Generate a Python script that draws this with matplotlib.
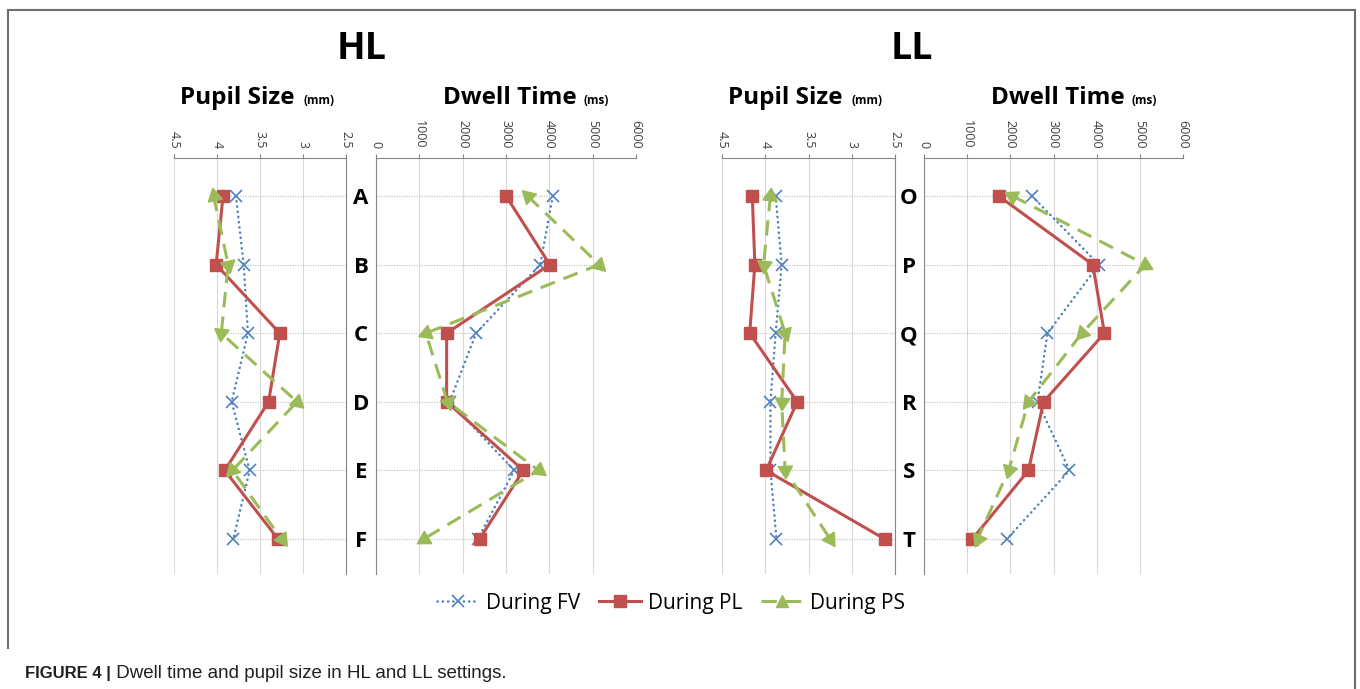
import numpy as np
import matplotlib
matplotlib.use('Agg')
import matplotlib.pyplot as plt
from matplotlib.lines import Line2D

plt.rcParams['font.family'] = ['Open Sans', 'DejaVu Sans']

W, H = 1360, 689

# ---------------------------------------------------------------------------
# Data
# ---------------------------------------------------------------------------
hl_cats = ['A', 'B', 'C', 'D', 'E', 'F']
ll_cats = ['O', 'P', 'Q', 'R', 'S', 'T']

hl_pupil_fv = [3.78, 3.69, 3.64, 3.83, 3.62, 3.81]
hl_pupil_pl = [3.93, 4.01, 3.27, 3.40, 3.91, 3.29]
hl_pupil_ps = [4.04, 3.87, 3.95, 3.07, 3.82, 3.25]

hl_dwell_fv = [4080, 3790, 2310, 1700, 3190, 2350]
hl_dwell_pl = [3000, 4010, 1630, 1630, 3400, 2390]
hl_dwell_ps = [3500, 5150, 1150, 1650, 3750, 1100]

ll_pupil_fv = [3.88, 3.81, 3.88, 3.94, 3.94, 3.87]
ll_pupil_pl = [4.15, 4.12, 4.18, 3.63, 3.99, 2.62]
ll_pupil_ps = [3.94, 4.02, 3.77, 3.81, 3.77, 3.25]

ll_dwell_fv = [2500, 4050, 2860, 2630, 3370, 1920]
ll_dwell_pl = [1730, 3910, 4180, 2770, 2420, 1120]
ll_dwell_ps = [2050, 5130, 3660, 2420, 1960, 1240]

pupil_ticks = [4.5, 4, 3.5, 3, 2.5]
pupil_ticklabels = ['4.5', '4', '3.5', '3', '2.5']
dwell_ticks = [0, 1000, 2000, 3000, 4000, 5000, 6000]
dwell_ticklabels = ['0', '1000', '2000', '3000', '4000', '5000', '6000']

series_names = ['During FV', 'During PL', 'During PS']

# ---------------------------------------------------------------------------
# Styles
# ---------------------------------------------------------------------------
C_FV = '#4F81BD'
C_PL = '#C0504D'
C_PS = '#9BBB59'
C_AXIS = '#868686'
C_GRID = '#D9D9D9'

FV_STYLE = dict(color=C_FV, lw=1.8, ls=(0, (0.1, 2.0)), dash_capstyle='round')
PL_STYLE = dict(color=C_PL, lw=2.2, ls='-')
PS_STYLE = dict(color=C_PS, lw=2.2, ls=(0, (5, 3)))


def px(x, y):
    return x / W, 1 - y / H


def rect(x0, y0, x1, y1):
    return [x0 / W, 1 - y1 / H, (x1 - x0) / W, (y1 - y0) / H]


def arrow_angles(ax, xs, ys):
    # triangles point along the direction of travel of the line
    pts = ax.transData.transform(np.column_stack([xs, ys]))
    out = []
    for i in range(len(pts)):
        d = pts[0] - pts[1] if i == 0 else pts[i] - pts[i - 1]
        out.append(np.degrees(np.arctan2(d[1], d[0])) - 90)
    return out


def draw_panel(ax, fv, pl, ps, cats, kind):
    y = np.arange(len(cats))
    if kind == 'pupil':
        ax.set_xlim(4.5, 2.5)
        ax.set_xticks(pupil_ticks, pupil_ticklabels)
        base = 2.5
        ax.spines['left'].set_visible(False)
        ax.spines['right'].set_color(C_AXIS)
    else:
        ax.set_xlim(0, 6000)
        ax.set_xticks(dwell_ticks, dwell_ticklabels)
        base = 0
        ax.spines['right'].set_visible(False)
        ax.spines['left'].set_color(C_AXIS)
    ax.set_ylim(5.51, -0.554)
    ax.spines['bottom'].set_visible(False)
    ax.spines['top'].set_color(C_AXIS)

    ax.grid(axis='x', color=C_GRID, lw=0.8)
    ax.set_axisbelow(True)
    ax.xaxis.tick_top()
    ax.tick_params(axis='x', top=True, labeltop=True, bottom=False, labelbottom=False,
                   length=3, color=C_AXIS, labelsize=9, labelcolor='#404040',
                   pad=4, labelrotation=-90)

    far = np.max([fv, pl, ps], axis=0)
    ax.hlines(y, base, far, color='#C8C8C8', lw=0.9, ls=(0, (1, 1)), zorder=1)

    ax.plot(fv, y, **FV_STYLE, marker='x', ms=9, mew=1.2, mec=C_FV, zorder=3)
    ax.plot(pl, y, **PL_STYLE, marker='s', ms=8, mfc=C_PL, mec=C_PL, zorder=4)
    ax.plot(ps, y, **PS_STYLE, zorder=5)
    for xv, yv, ang in zip(ps, y, arrow_angles(ax, ps, y)):
        ax.plot([xv], [yv], ls='none', marker=(3, 0, ang), ms=12,
                mfc=C_PS, mec=C_PS, zorder=5)

    if kind == 'dwell':
        ax.set_yticks(y, cats)
        ax.tick_params(axis='y', length=0, pad=10.8, labelsize=16)
        for lab in ax.get_yticklabels():
            lab.set_ha('center')
            lab.set_fontweight('bold')
    else:
        ax.set_yticks([])


fig = plt.figure(figsize=(W / 100, H / 100), dpi=100)

ax1 = fig.add_axes(rect(174, 158, 346, 574))
ax2 = fig.add_axes(rect(376, 158, 636, 574))
ax3 = fig.add_axes(rect(722, 158, 895, 574))
ax4 = fig.add_axes(rect(924, 158, 1183, 574))

draw_panel(ax1, hl_pupil_fv, hl_pupil_pl, hl_pupil_ps, hl_cats, 'pupil')
draw_panel(ax2, hl_dwell_fv, hl_dwell_pl, hl_dwell_ps, hl_cats, 'dwell')
draw_panel(ax3, ll_pupil_fv, ll_pupil_pl, ll_pupil_ps, ll_cats, 'pupil')
draw_panel(ax4, ll_dwell_fv, ll_dwell_pl, ll_dwell_ps, ll_cats, 'dwell')

# titles
fig.text(*px(362, 59), 'HL', fontsize=27, fontweight='bold', ha='center', va='baseline')
fig.text(*px(912, 59), 'LL', fontsize=27, fontweight='bold', ha='center', va='baseline')
for x0, x1, main, unit in [(180, 303, 'Pupil Size', '(mm)'), (443, 583, 'Dwell Time', '(ms)'),
                           (728, 851, 'Pupil Size', '(mm)'), (991, 1131, 'Dwell Time', '(ms)')]:
    fig.text(*px(x0, 104), main, fontsize=17.5, fontweight='bold', ha='left', va='baseline')
    fig.text(*px(x1, 104), unit, fontsize=8.5, fontweight='bold', ha='left', va='baseline')

# legend
handles = [
    Line2D([], [], **FV_STYLE, marker='x', ms=9, mew=1.2),
    Line2D([], [], **PL_STYLE, marker='s', ms=8),
    Line2D([], [], **PS_STYLE, marker='^', ms=9),
]
fig.legend(handles, series_names, loc='center', bbox_to_anchor=px(671, 603), ncol=3,
           frameon=False, fontsize=15, handlelength=2.0, handletextpad=0.35,
           columnspacing=0.9)

# frame and caption
for xs, ys in [((8, 1355), (10, 10)), ((8, 8), (10, 648)), ((1355, 1355), (10, 689))]:
    fig.add_artist(Line2D([x / W for x in xs], [1 - y / H for y in ys],
                          color='#6E6E6E', lw=1.5))
cap = fig.text(*px(25, 678), 'FIGURE 4 |', fontsize=12, fontweight='bold',
               family=['Liberation Sans'], ha='left', va='baseline', color='#231F20')
fig.canvas.draw()
cap_end = cap.get_window_extent().x1 / W
fig.text(cap_end, 1 - 678 / H, ' Dwell time and pupil size in HL and LL settings.',
         fontsize=13.5, family=['Liberation Sans'], ha='left', va='baseline',
         color='#231F20')

fig.savefig('out.png', dpi=100)
